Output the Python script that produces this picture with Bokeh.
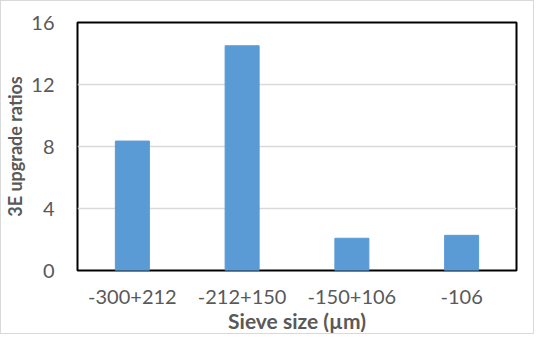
from bokeh.plotting import figure
from bokeh.models import FixedTicker, Range1d
from bokeh.embed import file_html
from bokeh.resources import INLINE

categories = ["-300+212", "-212+150", "-150+106", "-106"]
ratios = [8.35, 14.5, 2.08, 2.27]
y_ticks = [0, 4, 8, 12, 16]

p = figure(x_range=categories, y_range=Range1d(0, 16), width=534, height=334,
           output_backend="svg", toolbar_location=None,
           min_border_left=76, min_border_right=19, min_border_top=21, min_border_bottom=64,
           styles={"border": "1px solid #d9d9d9"})

p.vbar(x=categories, top=ratios, width=0.31, color="#5B9BD5")

p.outline_line_color = "black"
p.outline_line_width = 2
p.xgrid.grid_line_color = None
p.ygrid.grid_line_color = "#d9d9d9"
p.ygrid.grid_line_width = 1.5
p.yaxis.ticker = FixedTicker(ticks=y_ticks)

for ax in (p.xaxis[0], p.yaxis[0]):
    ax.axis_line_color = None
    ax.major_tick_line_color = None
    ax.minor_tick_line_color = None
    ax.major_label_text_font = "Lato"
    ax.major_label_text_font_size = "20px"
    ax.major_label_text_color = "#595959"
    ax.axis_label_text_font = "Lato"
    ax.axis_label_text_font_style = "bold"
    ax.axis_label_text_color = "#595959"

p.xaxis.axis_label = "Sieve size (µm)"
p.yaxis.axis_label = "3E upgrade ratios"
p.xaxis.axis_label_text_font_size = "21px"
p.yaxis.axis_label_text_font_size = "18px"
p.yaxis.major_label_standoff = 17
p.xaxis.major_label_standoff = 13
p.xaxis.axis_label_standoff = 1
p.yaxis.axis_label_standoff = 2

open("out.html", "w").write(file_html(p, INLINE))
